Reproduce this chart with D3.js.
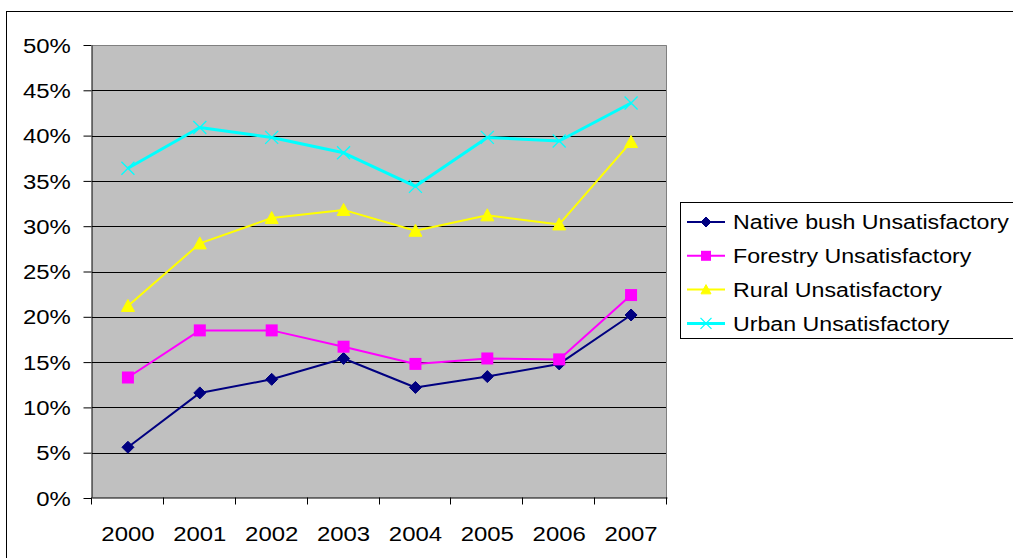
<!DOCTYPE html>
<html>
<head>
<meta charset="utf-8">
<script src="https://cdn.jsdelivr.net/npm/d3@7/dist/d3.min.js"></script>
<style>
  html, body { margin: 0; padding: 0; background: #fff; }
  svg { display: block; }
  text { font-family: "Liberation Sans", Arial, sans-serif; fill: #000; }
</style>
</head>
<body>
<svg id="chart" width="1013" height="558"></svg>
<script>
// Share of sites rated unsatisfactory, by land use, 2000–2007
const years = ["2000", "2001", "2002", "2003", "2004", "2005", "2006", "2007"];
const nativeBush = [0.056, 0.116, 0.131, 0.154, 0.122, 0.134, 0.148, 0.202];
const forestry   = [0.133, 0.185, 0.185, 0.167, 0.148, 0.154, 0.153, 0.224];
const rural      = [0.212, 0.281, 0.309, 0.318, 0.295, 0.312, 0.302, 0.393];
const urban      = [0.364, 0.409, 0.398, 0.381, 0.344, 0.398, 0.394, 0.436];
const yTicks = [0, 0.05, 0.10, 0.15, 0.20, 0.25, 0.30, 0.35, 0.40, 0.45, 0.50];

const series = [
  { name: "Native bush Unsatisfactory", values: nativeBush, color: "#000080", width: 2, marker: "diamond" },
  { name: "Forestry Unsatisfactory",    values: forestry,   color: "#FF00FF", width: 2, marker: "square" },
  { name: "Rural Unsatisfactory",       values: rural,      color: "#FFFF00", width: 2, marker: "triangle" },
  { name: "Urban Unsatisfactory",       values: urban,      color: "#00FFFF", width: 3, marker: "cross" }
];

const TEXT_STRETCH = 1.14;
const LEGEND_STRETCH = 1.105;
const FONT = 21;

const svg = d3.select("#chart");

// Outer chart frame
svg.append("rect")
  .attr("x", 6.5).attr("y", 11.5)
  .attr("width", 1100).attr("height", 600)
  .attr("fill", "#fff").attr("stroke", "#000").attr("stroke-width", 1);

const plot = { left: 92, right: 667, top: 45, bottom: 498 };

const x = d3.scaleBand().domain(years).range([plot.left, plot.right]).padding(0);
const y = d3.scaleLinear().domain([0, 0.5]).range([plot.bottom, plot.top]);
const cx = d => x(d) + x.bandwidth() / 2;

// Plot background
svg.append("rect")
  .attr("x", plot.left).attr("y", plot.top)
  .attr("width", plot.right - plot.left).attr("height", plot.bottom - plot.top)
  .attr("fill", "#C0C0C0");

// Horizontal gridlines
svg.append("g")
  .selectAll("line")
  .data(yTicks.filter(t => t > 0 && t < 0.5))
  .join("line")
  .attr("x1", plot.left).attr("x2", plot.right)
  .attr("y1", d => Math.round(y(d)) + 0.5).attr("y2", d => Math.round(y(d)) + 0.5)
  .attr("stroke", "#000").attr("stroke-width", 1);

// Plot frame: grey top and right edges
svg.append("path")
  .attr("d", `M${plot.left},${plot.top + 0.5}H${plot.right - 0.5}V${plot.bottom}`)
  .attr("fill", "none").attr("stroke", "#808080").attr("stroke-width", 1);

// Y axis
const yAxis = svg.append("g")
  .attr("transform", `translate(${plot.left - 0.5},0)`)
  .call(d3.axisLeft(y).tickValues(yTicks).tickFormat(d3.format(".0%")).tickSize(8).tickSizeOuter(0));
yAxis.select(".domain").attr("stroke", "#000");
yAxis.selectAll(".tick line").attr("stroke", "#000");
yAxis.selectAll(".tick text")
  .attr("font-size", FONT)
  .attr("font-family", "Liberation Sans, Arial, sans-serif")
  .attr("x", -20.7 / TEXT_STRETCH)
  .attr("dy", "0.34em")
  .attr("transform", `scale(${TEXT_STRETCH},1)`);

// X axis: labels centred on categories, ticks on category boundaries
const xAxis = svg.append("g")
  .attr("transform", `translate(0,${plot.bottom - 0.5})`)
  .call(d3.axisBottom(x).tickSize(0).tickSizeOuter(0));
xAxis.select(".domain").attr("stroke", "#000");
xAxis.selectAll(".tick text")
  .attr("font-size", FONT)
  .attr("font-family", "Liberation Sans, Arial, sans-serif")
  .attr("y", 43.5).attr("dy", 0)
  .attr("transform", `scale(${TEXT_STRETCH},1)`);
xAxis.append("g")
  .selectAll("line")
  .data(years.map(d => x(d)).concat([x.range()[1]]))
  .join("line")
  .attr("x1", d => Math.round(d) - 0.5).attr("x2", d => Math.round(d) - 0.5)
  .attr("y1", 0).attr("y2", 7)
  .attr("stroke", "#000");

// Marker drawing
function drawMarker(g, type, color, size) {
  const s = size / 2;
  if (type === "diamond") {
    g.append("path").attr("d", `M0,${-s}L${s},0L0,${s}L${-s},0Z`).attr("fill", color).attr("stroke", color);
  } else if (type === "square") {
    g.append("rect").attr("x", -s).attr("y", -s).attr("width", size).attr("height", size).attr("fill", color);
  } else if (type === "triangle") {
    g.append("path").attr("d", `M0,${-s}L${s},${s * 0.85}L${-s},${s * 0.85}Z`).attr("fill", color).attr("stroke", color);
  } else if (type === "cross") {
    g.append("path").attr("d", `M${-s},${-s}L${s},${s}M${-s},${s}L${s},${-s}`).attr("stroke", color).attr("stroke-width", 1.3).attr("fill", "none");
  }
}

const markerSize = { diamond: 12, square: 12, triangle: 13, cross: 13 };

const line = d3.line().x(d => cx(d.year)).y(d => y(d.value));

series.forEach(sr => {
  const pts = years.map((yr, i) => ({ year: yr, value: sr.values[i] }));
  const g = svg.append("g");
  g.append("path")
    .datum(pts)
    .attr("d", line)
    .attr("fill", "none")
    .attr("stroke", sr.color)
    .attr("stroke-width", sr.width)
    .attr("stroke-linejoin", "round");
  pts.forEach(p => {
    const m = g.append("g").attr("transform", `translate(${cx(p.year)},${y(p.value)})`);
    drawMarker(m, sr.marker, sr.color, markerSize[sr.marker]);
  });
});

// Legend
const legend = svg.append("g");
legend.append("rect")
  .attr("x", 680.5).attr("y", 202.5)
  .attr("width", 400).attr("height", 136)
  .attr("fill", "#fff").attr("stroke", "#000").attr("stroke-width", 1);

series.forEach((sr, i) => {
  const rowY = 222 + i * 33.8;
  const row = legend.append("g");
  row.append("line")
    .attr("x1", 687).attr("x2", 725)
    .attr("y1", rowY).attr("y2", rowY)
    .attr("stroke", sr.color).attr("stroke-width", sr.width);
  const m = row.append("g").attr("transform", `translate(706,${rowY})`);
  drawMarker(m, sr.marker, sr.color, sr.marker === "cross" ? 11 : 10);
  row.append("text")
    .attr("transform", `translate(733,${rowY}) scale(${LEGEND_STRETCH},1)`)
    .attr("dy", "0.35em")
    .attr("font-size", FONT)
    .text(sr.name);
});
</script>
</body>
</html>
